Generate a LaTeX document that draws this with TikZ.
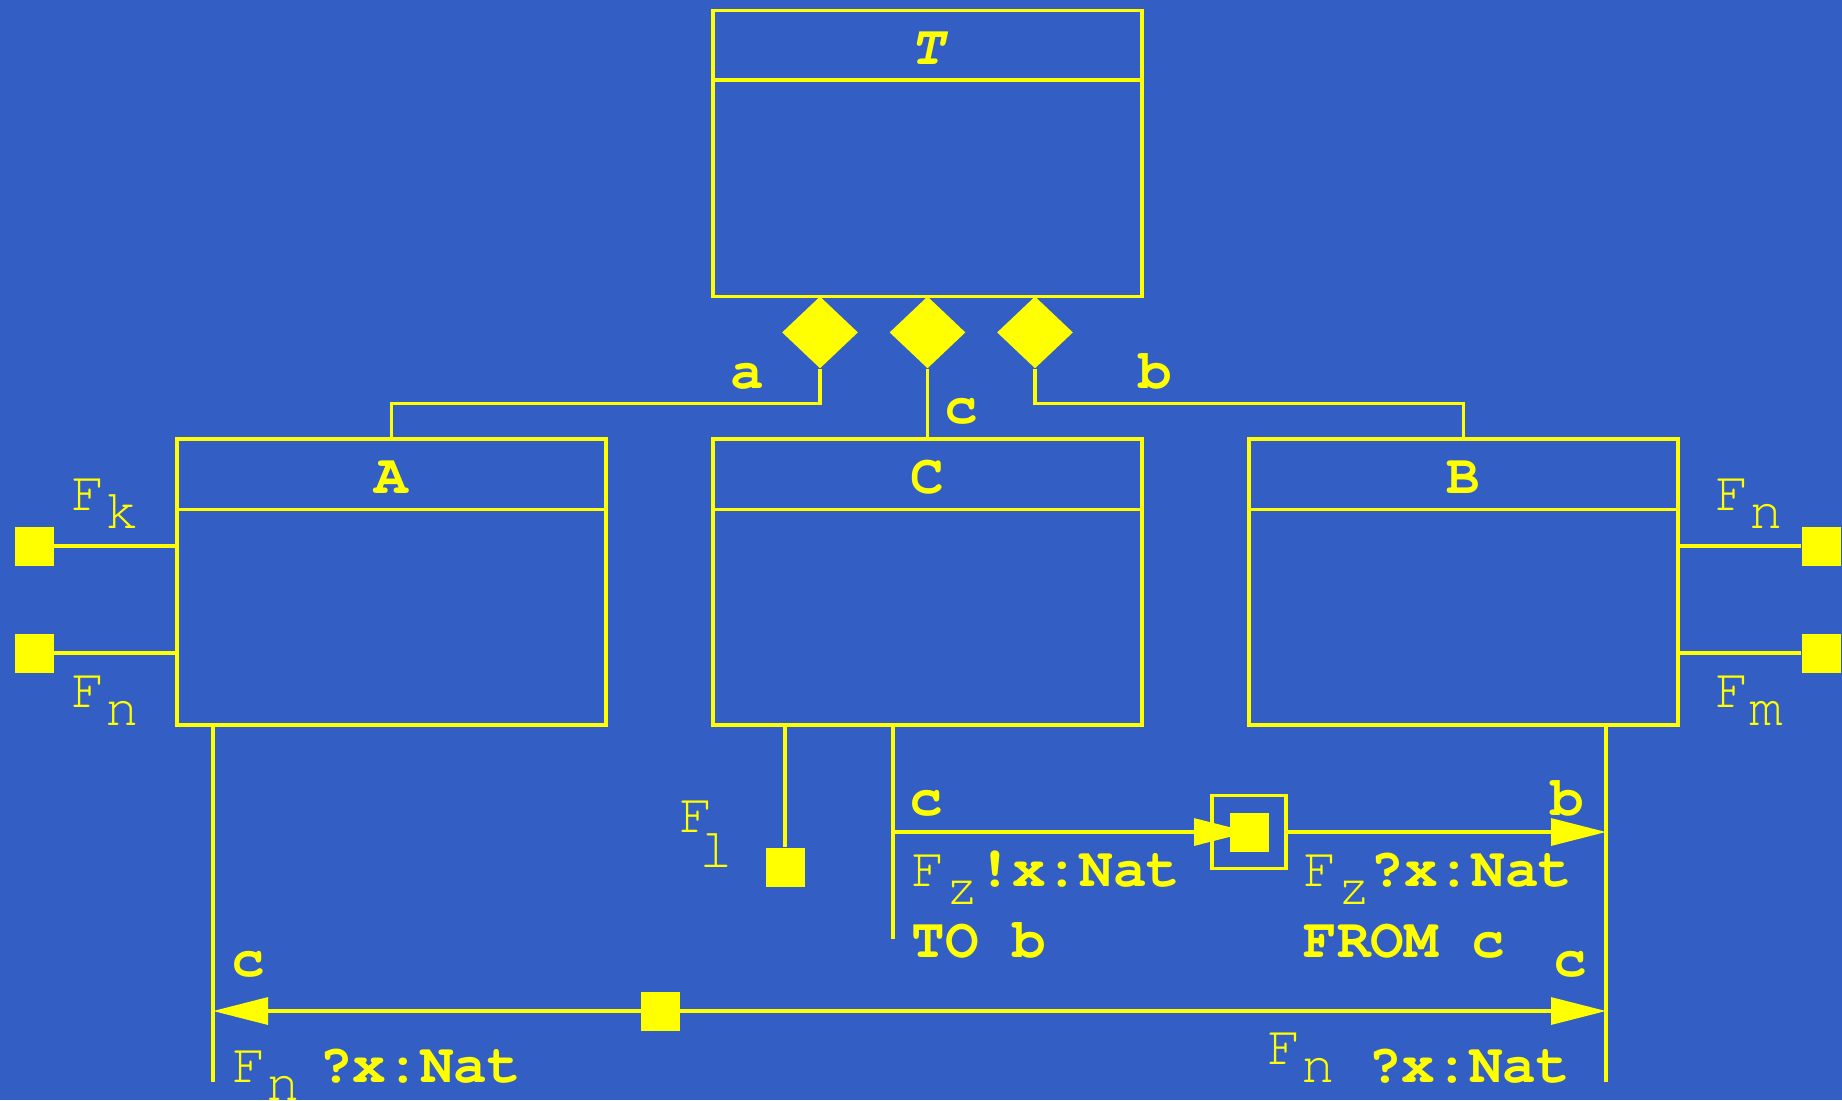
\documentclass[tikz,border=0pt]{standalone}
\usepackage{fontspec}
\setmonofont{texgyrecursor}[Extension=.otf,UprightFont=*-regular,BoldFont=*-bold,ItalicFont=*-italic,BoldItalicFont=*-bolditalic]
\usetikzlibrary{shapes.geometric,arrows.meta,positioning}
\definecolor{bgblue}{RGB}{51,94,196}
\definecolor{ylw}{RGB}{255,255,0}
\newcommand{\lowr}[2][9pt]{\raisebox{-#1}{#2}}
\tikzset{
  wire/.style={draw=ylw,line width=1.6pt},
  classbox/.style={wire,rectangle,minimum width=214.5pt,minimum height=143pt,inner sep=0pt},
  port/.style={fill=ylw,rectangle,minimum size=19.5pt,inner sep=0pt},
  agg/.style={fill=ylw,diamond,minimum width=38pt,minimum height=36pt,inner sep=0pt},
  lbl/.style={text=ylw,inner sep=0pt,anchor=base west,font=\fontsize{28}{30}\selectfont\ttfamily\bfseries},
  plainlbl/.style={lbl,font=\fontsize{28}{30}\selectfont\ttfamily\mdseries},
}
\begin{document}
\begin{tikzpicture}[x=0.5pt,y=-0.5pt,>={Triangle[length=27.5pt,width=13.5pt]}]
  \useasboundingbox[fill=bgblue] (0,0) rectangle (1842,1100);
  % classes
  \node[classbox] (T) at (927.5,153.5) {};
  \node[classbox] (A) at (391.5,582) {};
  \node[classbox] (C) at (927.5,582) {};
  \node[classbox] (B) at (1463.5,582) {};
  \draw[wire] ([yshift=-35.5pt]T.north west) -- ([yshift=-35.5pt]T.north east);
  \foreach \k in {A,C,B}
    \draw[wire] ([yshift=-36pt]\k.north west) -- ([yshift=-36pt]\k.north east);
  \node[lbl,anchor=base] (Tname) at (927.5,64) {\itshape T};
  \node[lbl,anchor=base] (Aname) at (391.5,493) {A};
  \node[lbl,anchor=base] (Cname) at (927.5,493) {C};
  \node[lbl,anchor=base] (Bname) at (1463.5,493) {B};
  % aggregation
  \node[agg,anchor=north] (da) at (820,296) {};
  \node[agg,anchor=north] (dc) at (927.5,296) {};
  \node[agg,anchor=north] (db) at (1035,296) {};
  \draw[wire] (da.south) -- ++(0,35) -| (A.north);
  \draw[wire] (dc.south) -- (C.north);
  \draw[wire] (db.south) -- ++(0,35) -| (B.north);
  \node[lbl] (ra) at (730,388) {a};
  \node[lbl] (rc) at (944,423) {c};
  \node[lbl] (rb) at (1138,388) {b};
  % ports of A and B
  \node[port] (pk) at (34,546) {};
  \node[port] (pn) at (34,653) {};
  \node[port] (qn) at (1821,546) {};
  \node[port] (qm) at (1821,653) {};
  \draw[wire] (pk) -- (pk -| A.west);
  \draw[wire] (pn) -- (pn -| A.west);
  \draw[wire] (qn) -- (qn -| B.east);
  \draw[wire] (qm) -- (qm -| B.east);
  \node[plainlbl] (lk) at (71,510) {F\lowr{k}};
  \node[plainlbl] (ln) at (71,707) {F\lowr{n}};
  \node[plainlbl] (mn) at (1715,510) {F\lowr{n}};
  \node[plainlbl] (mm) at (1715,707) {F\lowr{m}};
  % port of C
  \node[port] (pl) at (785,867) {};
  \draw[wire] (pl) -- (pl |- C.south);
  \node[plainlbl] (ll) at (679,832) {F\hspace{-7pt}\lowr[17.5pt]{l}};
  % channel C -> B
  \coordinate (stop) at (893,725);
  \coordinate (sbot) at (893,939);
  \coordinate (sout) at (893,832);
  \coordinate (brecv) at (1606,832);
  \draw[wire] (stop) -- (sbot);
  \node[wire,rectangle,minimum width=37pt,minimum height=36.5pt,inner sep=0pt] (chan) at (1249,832) {};
  \draw[wire,->] (sout) -- (chan.center);
  \node[port] (chanport) at (chan.center) {};
  \draw[wire,->] (chan.east) -- (brecv);
  \node[lbl] (cs) at (909,815) {c};
  \node[lbl] (br) at (1550,815) {b};
  \node[lbl] (snd) at (911,886) {\mdseries F\lowr{z}\bfseries!x:Nat};
  \node[lbl] (sto) at (911,957) {TO b};
  \node[lbl] (rcv) at (1303,886) {\mdseries F\lowr{z}\bfseries?x:Nat};
  \node[lbl] (rfr) at (1303,957) {FROM c};
  % channel A <-> B
  \coordinate (atop) at (213,725);
  \coordinate (abot) at (213,1082);
  \coordinate (btop) at (1606,725);
  \coordinate (bbot) at (1606,1082);
  \coordinate (aend) at (213,1011);
  \coordinate (bend) at (1606,1011);
  \draw[wire] (atop) -- (abot);
  \draw[wire] (btop) -- (bbot);
  \draw[wire,<->] (aend) -- (bend);
  \node[port] (mid) at (660,1011) {};
  \node[lbl] (ca) at (231,976) {c};
  \node[lbl] (cb) at (1553,976) {c};
  \node[lbl] (an) at (232,1082) {\mdseries F\lowr{n}\hspace{0.35em}\bfseries?x:Nat};
  \node[lbl] (bn) at (1267,1082) {\mdseries\raisebox{9pt}{F}n \bfseries?x:Nat};
\end{tikzpicture}
\end{document}
